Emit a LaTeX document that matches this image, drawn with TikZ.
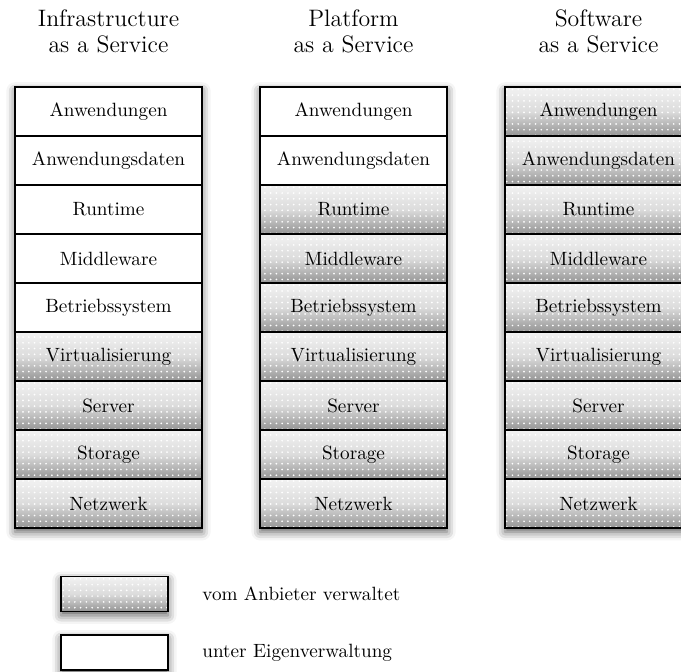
\documentclass[tikz,border=0pt]{standalone}
\usetikzlibrary{patterns,shadows.blur}
\def\u{0.521pt}
\begin{document}
\begin{tikzpicture}[x=\u,y=-\u,
  layer/.style={draw=black, line width=0.8pt, minimum width=187*\u,
    minimum height=49*\u, inner sep=0pt, font=\normalsize},
  own/.style={layer, fill=white},
  managed/.style={layer,
    preaction={top color=black!5, bottom color=black!42, middle color=black!14},
    pattern=dots, pattern color=white},
  colshadow/.style={blur shadow={shadow xshift=0pt, shadow yshift=-2pt,
    shadow blur radius=4.5pt, shadow opacity=65}},
  title/.style={align=center, anchor=base,
    font=\fontsize{12.4}{13.6}\selectfont},
  legendsize/.style={minimum width=107*\u, minimum height=35*\u},
  legendtext/.style={anchor=west, inner sep=0pt}]
\useasboundingbox (0,0) rectangle (681,671);

% three service models: column centre, first provider-managed row
% (the base anchor of a two-line title sits on its second line)
\foreach \name/\cx/\first/\head in {iaas/108.5/6/Infrastructure,
    paas/353.5/3/Platform, saas/598.5/1/Software}{
  \node[title] (\name-title) at (\cx,53) {\head\\as a Service};
  \path[colshadow] (\cx-93.5,87) rectangle (\cx+93.5,528);
  \foreach \t [count=\i] in {Anwendungen,Anwendungsdaten,Runtime,Middleware,
      Betriebssystem,Virtualisierung,Server,Storage,Netzwerk}{
    \ifnum\i<\first
      \node[own] (\name-\i) at (\cx,62.5+49*\i) {\t};
    \else
      \node[managed] (\name-\i) at (\cx,62.5+49*\i) {\t};
    \fi
  }
}

% legend
\node[colshadow, managed, legendsize] (key-managed) at (114.5,594) {};
\node[colshadow, own, legendsize] (key-own) at (114.5,652.5) {};
\node[legendtext] (key-managed-text) at (202,594) {vom Anbieter verwaltet};
\node[legendtext] (key-own-text) at (202,653) {unter Eigenverwaltung};
\end{tikzpicture}
\end{document}
